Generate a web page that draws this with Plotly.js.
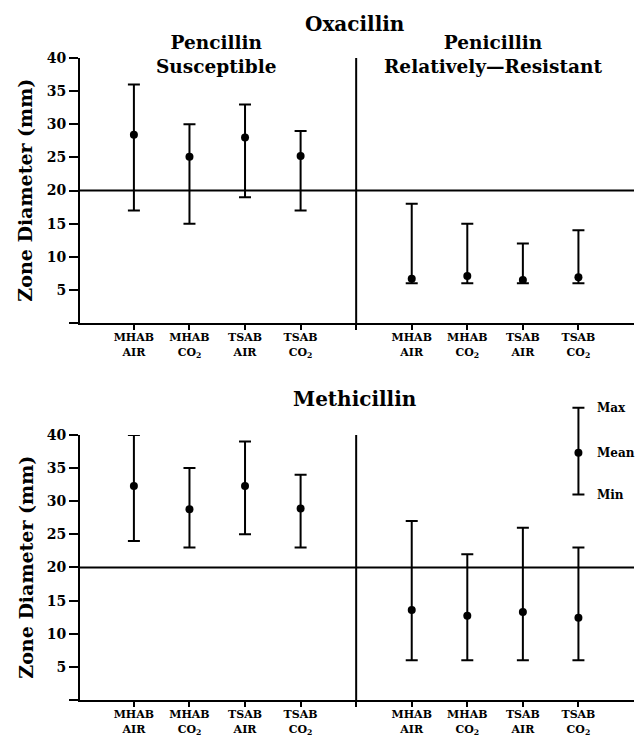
<!DOCTYPE html>
<html>
<head>
<meta charset="utf-8">
<script src="https://cdn.plot.ly/plotly-3.0.1.min.js"></script>
<style>html,body{margin:0;padding:0;background:#fff;}#chart{width:637px;height:736px;}</style>
</head>
<body>
<div id="chart"></div>
<script>
// ---- data ----
const categories = ['MHAB<br>AIR', 'MHAB<br>CO<sub>2</sub>', 'TSAB<br>AIR', 'TSAB<br>CO<sub>2</sub>'];
const groups = ['Pencillin<br>Susceptible', 'Penicillin<br>Relatively—Resistant'];
const panelTitles = ['Oxacillin', 'Methicillin'];
const yTickVals = [0, 5, 10, 15, 20, 25, 30, 35, 40];
const yTickText = ['', '5', '10', '15', '20', '25', '30', '35', '40'];
const breakpoint = 20;

const oxaSusMean = [28.4, 25.1, 28.0, 25.2];
const oxaSusMax  = [36, 30, 33, 29];
const oxaSusMin  = [17, 15, 19, 17];
const oxaResMean = [6.7, 7.1, 6.5, 6.9];
const oxaResMax  = [18, 15, 12, 14];
const oxaResMin  = [6, 6, 6, 6];

const metSusMean = [32.3, 28.8, 32.3, 28.9];
const metSusMax  = [40, 35, 39, 34];
const metSusMin  = [24, 23, 25, 23];
const metResMean = [13.6, 12.7, 13.3, 12.4];
const metResMax  = [27, 22, 26, 23];
const metResMin  = [6, 6, 6, 6];

const legendMean = 37.3, legendMax = 44.1, legendMin = 31.0;
const legendLabels = ['Max', 'Mean', 'Min'];

// ---- build ----
const susX = categories.map((c, i) => i + 1);
const resX = categories.map((c, i) => i + 6);
const dividerX = 5;
const FONT = 'DejaVu Serif';
const topDom = [0.5611, 0.9212];
const botDom = [0.0489, 0.4090];
const legDom = [botDom[0], 0.52];
const legTop = 40 * (legDom[1] - legDom[0]) / (botDom[1] - botDom[0]);

function rangeTrace(xs, mean, max, min, xa, ya) {
  return {
    type: 'scatter', mode: 'markers', x: xs, y: mean, xaxis: xa, yaxis: ya,
    marker: {color: '#000', size: 8},
    error_y: {type: 'data', symmetric: false,
      array: max.map((v, i) => v - mean[i]),
      arrayminus: min.map((v, i) => mean[i] - v),
      color: '#000', thickness: 2, width: 6},
    cliponaxis: false, showlegend: false, hoverinfo: 'skip'
  };
}

const traces = [
  rangeTrace(susX, oxaSusMean, oxaSusMax, oxaSusMin, 'x', 'y'),
  rangeTrace(resX, oxaResMean, oxaResMax, oxaResMin, 'x', 'y'),
  rangeTrace(susX, metSusMean, metSusMax, metSusMin, 'x2', 'y2'),
  rangeTrace(resX, metResMean, metResMax, metResMin, 'x2', 'y2'),
  rangeTrace([resX[3]], [legendMean], [legendMax], [legendMin], 'x2', 'y3')
];

const allTickVals = susX.concat([dividerX], resX);
const allTickText = categories.concat([''], categories);

function xAxis(anchor) {
  return {
    anchor: anchor, range: [0.03, 10], showgrid: false, zeroline: false,
    showline: true, linecolor: '#000', linewidth: 2,
    ticks: 'outside', ticklen: 5, tickwidth: 2, tickcolor: '#000',
    tickvals: allTickVals, ticktext: allTickText, ticklabelstandoff: -2,
    tickfont: {family: FONT, size: 11, color: '#000', weight: 700}
  };
}
function yAxis(anchor, domain) {
  return {
    anchor: anchor, domain: domain, range: [0, 40], showgrid: false, zeroline: false,
    showline: true, linecolor: '#000', linewidth: 2,
    ticks: 'outside', ticklen: 9, tickwidth: 2, tickcolor: '#000',
    tickvals: yTickVals, ticktext: yTickText,
    tickfont: {family: FONT, size: 14, color: '#000', weight: 700}
  };
}

const shapes = [];
[['x', 'y'], ['x2', 'y2']].forEach(([xa, ya]) => {
  shapes.push({type: 'line', xref: xa + ' domain', yref: ya, x0: 0, x1: 1, y0: breakpoint, y1: breakpoint,
    line: {color: '#000', width: 2}});
  shapes.push({type: 'line', xref: xa, yref: ya, x0: dividerX, x1: dividerX, y0: 0, y1: 40,
    line: {color: '#000', width: 2}});
});

const ann = [];
function txt(text, x, y, size, opts) {
  return Object.assign({text: text, x: x, y: y, xref: 'paper', yref: 'paper', showarrow: false,
    xanchor: 'center', yanchor: 'middle',
    font: {family: FONT, size: size, color: '#000', weight: 700}}, opts || {});
}
ann.push(txt(panelTitles[0], 0.496, 0.967, 20));
ann.push(txt(groups[0], 0.247, 0.9266, 18.5));
ann.push(txt(groups[1], 0.747, 0.9266, 18.5));
ann.push(txt(panelTitles[1], 0.496, 0.4579, 20));
ann.push(txt('Zone Diameter (mm)', -0.099, 0.7412, 19, {textangle: -90}));
ann.push(txt('Zone Diameter (mm)', -0.099, 0.2289, 19, {textangle: -90}));
[legendMax, legendMean, legendMin].forEach((v, i) => {
  ann.push({text: legendLabels[i], x: 9.3, y: v, xref: 'x2', yref: 'y3', showarrow: false,
    xanchor: 'left', yanchor: 'middle',
    font: {family: FONT, size: 12, color: '#000', weight: 700}});
});

const layout = {
  width: 637, height: 736,
  margin: {l: 80, r: 3, t: 0, b: 0},
  paper_bgcolor: '#fff', plot_bgcolor: 'rgba(0,0,0,0)',
  showlegend: false,
  xaxis: xAxis('y'), yaxis: yAxis('x', topDom),
  xaxis2: xAxis('y2'), yaxis2: yAxis('x2', botDom),
  yaxis3: {anchor: 'free', position: 0, domain: legDom, range: [0, legTop], visible: false,
    showgrid: false, zeroline: false, fixedrange: true},
  shapes: shapes, annotations: ann
};

Plotly.newPlot('chart', traces, layout, {displayModeBar: false, staticPlot: true});
</script>
</body>
</html>
